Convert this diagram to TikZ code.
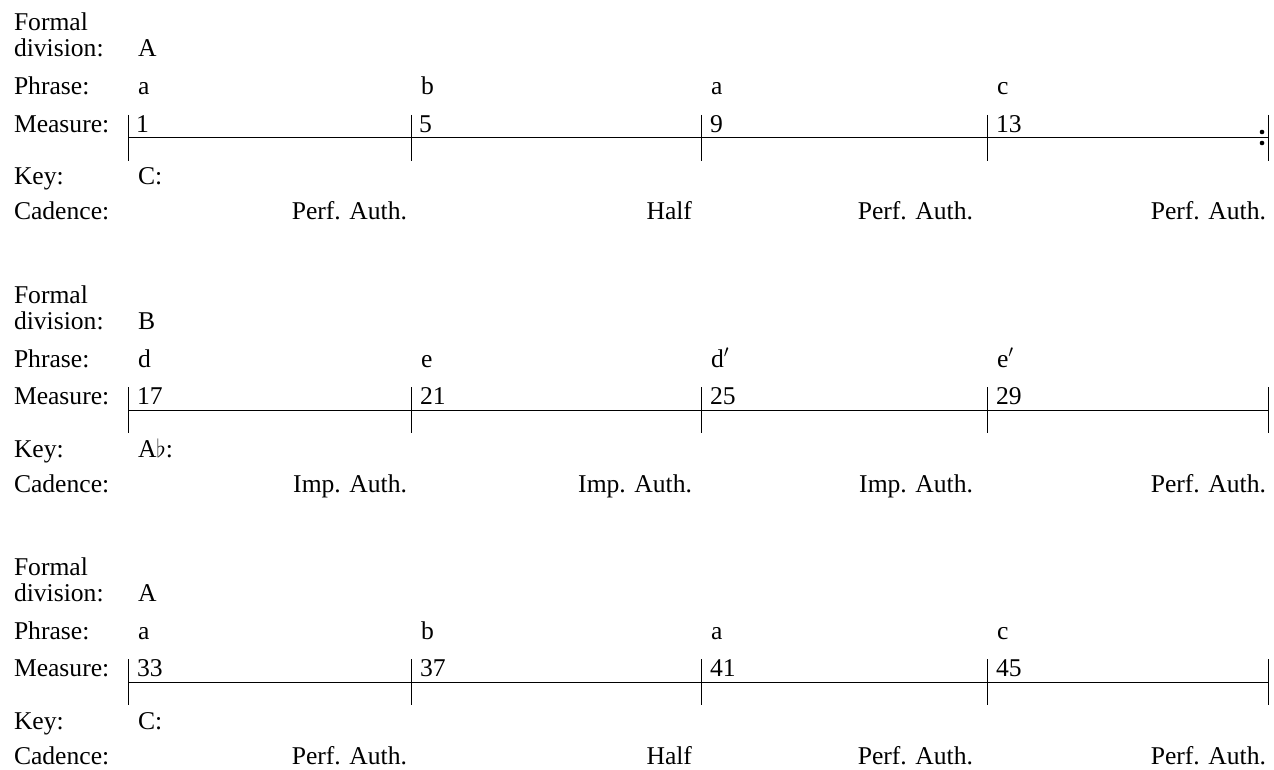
\documentclass[tikz,border=0pt]{standalone}
\usepackage{fontspec}
\setmainfont{Liberation Serif}
\begin{document}
\begin{tikzpicture}[x=1pt,y=-1pt,
  font=\fontsize{25.6}{26}\selectfont,
  lbl/.style={anchor=base west, inner sep=0pt, outer sep=0pt},
  cad/.style={anchor=base east, inner sep=0pt, outer sep=0pt},
  rule/.style={line width=1pt, draw=black},
  rdot/.style={circle, fill=black, inner sep=0pt, minimum size=4.6pt}]
\useasboundingbox (0,0) rectangle (1274,770);

% ---------- Block 1 ----------
\begin{scope}[shift={(0,138)}, name prefix=b1-]
  \node[lbl] (fdl) at (14,-81) {\begin{tabular}[b]{@{}l@{}}Formal\\division:\end{tabular}};
  \node[lbl] (fd) at (138,-81) {A};
  \node[lbl] (phl) at (14,-43) {Phrase:};
  \node[lbl] (p1) at (138,-43) {a};
  \node[lbl] (p2) at (421,-43) {b};
  \node[lbl] (p3) at (711,-43) {a};
  \node[lbl] (p4) at (997,-43) {c};
  \node[lbl] (msl) at (14,-5.5) {Measure:};
  \node[lbl] (m1) at (136,-5.5) {1};
  \node[lbl] (m2) at (419,-5.5) {5};
  \node[lbl] (m3) at (710,-5.5) {9};
  \node[lbl] (m4) at (996,-5.5) {13};
  \coordinate (l0) at (128,0); \coordinate (l1) at (1268,0);
  \coordinate (t1a) at (128,-23);  \coordinate (t1b) at (128,23);
  \coordinate (t2a) at (411,-23);  \coordinate (t2b) at (411,23);
  \coordinate (t3a) at (701,-23);  \coordinate (t3b) at (701,23);
  \coordinate (t4a) at (987.5,-23);\coordinate (t4b) at (987.5,23);
  \coordinate (t5a) at (1268,-23); \coordinate (t5b) at (1268,23);
  \draw[rule] (l0) -- (l1);
  \foreach \i in {1,...,5} \draw[rule] (t\i a) -- (t\i b);
  \node[rdot] (rd1) at (1262,-6) {};
  \node[rdot] (rd2) at (1262,5) {};
  \node[lbl] (kl) at (14,47) {Key:};
  \node[lbl] (k) at (138,47) {C:};
  \node[lbl] (cl) at (14,82) {Cadence:};
  \node[cad] (c1) at (407,82) {Perf. Auth.};
  \node[cad] (c2) at (692,82) {Half};
  \node[cad] (c3) at (973,82) {Perf. Auth.};
  \node[cad] (c4) at (1266,82) {Perf. Auth.};
\end{scope}

% ---------- Block 2 ----------
\begin{scope}[shift={(0,410)}, name prefix=b2-]
  \node[lbl] (fdl) at (14,-81) {\begin{tabular}[b]{@{}l@{}}Formal\\division:\end{tabular}};
  \node[lbl] (fd) at (138,-81) {B};
  \node[lbl] (phl) at (14,-43) {Phrase:};
  \node[lbl] (p1) at (138,-43) {d};
  \node[lbl] (p2) at (421,-43) {e};
  \node[lbl] (p3) at (711,-43) {d$'$};
  \node[lbl] (p4) at (997,-43) {e$'$};
  \node[lbl] (msl) at (14,-5.5) {Measure:};
  \node[lbl] (m1) at (137,-5.5) {17};
  \node[lbl] (m2) at (420,-5.5) {21};
  \node[lbl] (m3) at (710,-5.5) {25};
  \node[lbl] (m4) at (996,-5.5) {29};
  \coordinate (l0) at (128,0); \coordinate (l1) at (1268,0);
  \coordinate (t1a) at (128,-23);  \coordinate (t1b) at (128,23);
  \coordinate (t2a) at (411,-23);  \coordinate (t2b) at (411,23);
  \coordinate (t3a) at (701,-23);  \coordinate (t3b) at (701,23);
  \coordinate (t4a) at (987.5,-23);\coordinate (t4b) at (987.5,23);
  \coordinate (t5a) at (1268,-23); \coordinate (t5b) at (1268,23);
  \draw[rule] (l0) -- (l1);
  \foreach \i in {1,...,5} \draw[rule] (t\i a) -- (t\i b);
  \node[lbl] (kl) at (14,47) {Key:};
  \node[lbl] (k) at (138,47) {A$\flat$:};
  \node[lbl] (cl) at (14,82) {Cadence:};
  \node[cad] (c1) at (407,82) {Imp. Auth.};
  \node[cad] (c2) at (692,82) {Imp. Auth.};
  \node[cad] (c3) at (973,82) {Imp. Auth.};
  \node[cad] (c4) at (1266,82) {Perf. Auth.};
\end{scope}

% ---------- Block 3 ----------
\begin{scope}[shift={(0,682)}, name prefix=b3-]
  \node[lbl] (fdl) at (14,-81) {\begin{tabular}[b]{@{}l@{}}Formal\\division:\end{tabular}};
  \node[lbl] (fd) at (138,-81) {A};
  \node[lbl] (phl) at (14,-43) {Phrase:};
  \node[lbl] (p1) at (138,-43) {a};
  \node[lbl] (p2) at (421,-43) {b};
  \node[lbl] (p3) at (711,-43) {a};
  \node[lbl] (p4) at (997,-43) {c};
  \node[lbl] (msl) at (14,-5.5) {Measure:};
  \node[lbl] (m1) at (137,-5.5) {33};
  \node[lbl] (m2) at (420,-5.5) {37};
  \node[lbl] (m3) at (710,-5.5) {41};
  \node[lbl] (m4) at (996,-5.5) {45};
  \coordinate (l0) at (128,0); \coordinate (l1) at (1268,0);
  \coordinate (t1a) at (128,-23);  \coordinate (t1b) at (128,23);
  \coordinate (t2a) at (411,-23);  \coordinate (t2b) at (411,23);
  \coordinate (t3a) at (701,-23);  \coordinate (t3b) at (701,23);
  \coordinate (t4a) at (987.5,-23);\coordinate (t4b) at (987.5,23);
  \coordinate (t5a) at (1268,-23); \coordinate (t5b) at (1268,23);
  \draw[rule] (l0) -- (l1);
  \foreach \i in {1,...,5} \draw[rule] (t\i a) -- (t\i b);
  \node[lbl] (kl) at (14,47) {Key:};
  \node[lbl] (k) at (138,47) {C:};
  \node[lbl] (cl) at (14,82) {Cadence:};
  \node[cad] (c1) at (407,82) {Perf. Auth.};
  \node[cad] (c2) at (692,82) {Half};
  \node[cad] (c3) at (973,82) {Perf. Auth.};
  \node[cad] (c4) at (1266,82) {Perf. Auth.};
\end{scope}
\end{tikzpicture}
\end{document}
